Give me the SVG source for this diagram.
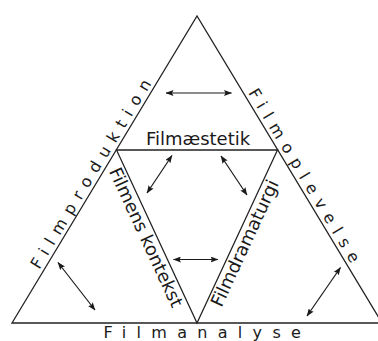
<svg xmlns="http://www.w3.org/2000/svg" width="378" height="341" viewBox="0 0 378 341">
<defs>
<marker id="ah" viewBox="0 0 8 6" refX="7.5" refY="3" markerWidth="8" markerHeight="6" markerUnits="userSpaceOnUse" orient="auto-start-reverse">
<path d="M0,0 L8,3 L0,6 L1.5,3 z" fill="#1a1a1a"/>
</marker>
</defs>
<style>
.edge{fill:none;stroke:#222;stroke-width:1.3;stroke-linejoin:miter}
.arr{fill:none;stroke:#1a1a1a;stroke-width:1.2;marker-start:url(#ah);marker-end:url(#ah)}
.outer{font-family:"DejaVu Sans","Liberation Sans",sans-serif;font-size:16px;fill:#1a1a1a}
.inner{font-family:"DejaVu Sans","Liberation Sans",sans-serif;font-size:18px;fill:#1a1a1a}
</style>
<rect width="378" height="341" fill="#fff"/>
<g id="outer-triangle">
<path class="edge" d="M12,323 L197,16 L382,323 Z"/>
</g>
<g id="inner-triangle">
<path class="edge" d="M116.5,150 L277.5,150 L197,323 Z"/>
</g>
<g id="Filmproduktion"><text class="outer" letter-spacing="7.6" transform="translate(39.3,269.9) rotate(-58.9)">Filmproduktion</text></g>
<g id="Filmoplevelse"><text class="outer" letter-spacing="7.6" transform="translate(247.9,92.7) rotate(58.9)">Filmoplevelse</text></g>
<g id="Filmanalyse"><text class="outer" letter-spacing="10.3" x="103.5" y="337.5">Filmanalyse</text></g>
<g id="Filmaestetik"><text class="inner" text-anchor="middle" x="198" y="145">Filmæstetik</text></g>
<g id="Filmens-kontekst"><text class="inner" transform="translate(108.7,171.2) rotate(65.2)">Filmens kontekst</text></g>
<g id="Filmdramaturgi"><text class="inner" transform="translate(221.6,307.9) rotate(-65.2)">Filmdramaturgi</text></g>
<g id="connectors">
<line class="arr" x1="166" y1="93" x2="231.5" y2="93"/>
<line class="arr" x1="172" y1="155.5" x2="147" y2="193"/>
<line class="arr" x1="221" y1="156" x2="247" y2="195"/>
<line class="arr" x1="173.5" y1="259.5" x2="218" y2="259.5"/>
<line class="arr" x1="58" y1="262.5" x2="95" y2="310"/>
<line class="arr" x1="340.5" y1="267.5" x2="307" y2="316"/>
</g>
</svg>
